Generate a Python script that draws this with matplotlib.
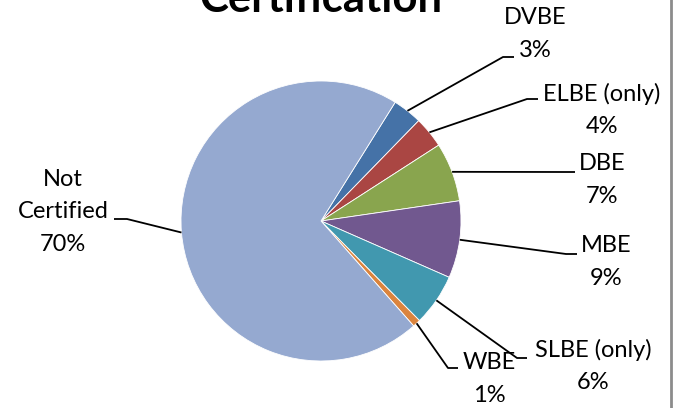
import math
import matplotlib.pyplot as plt

# Data
labels = ['DVBE', 'ELBE (only)', 'DBE', 'MBE', 'SLBE (only)', 'WBE', 'Not\nCertified']
shares = [3.4, 3.6, 6.8, 8.9, 6.0, 0.9, 70.4]
colors = ['#4572A7', '#AA4643', '#89A54E', '#71588F', '#4198AF', '#DB843D', '#95A9D0']

# Label layout (pixel coords, origin top-left): text centre, elbow, line end
text_pos = [(535, 34), (602, 110), (602, 180), (606, 262), (593, 366), (489, 379), (63, 212)]
elbows = [(503, 57), (527, 99), (564, 172), (566, 254), (517, 358), (448, 368), (127, 219)]
ends = [(514, 57), (538, 99), (575, 172), (577, 254), (527, 358), (458, 368), (114, 219)]

W, H = 675, 408
plt.rcParams['font.family'] = ['Lato', 'DejaVu Sans']

fig = plt.figure(figsize=(W / 100, H / 100), dpi=100)
ax = fig.add_axes([0, 0, 1, 1])

cx, cy, r = 321, H - 221, 140
wedges, _ = ax.pie(shares, colors=colors, startangle=58, counterclock=False,
                   center=(cx, cy), radius=r,
                   wedgeprops=dict(linewidth=0.6, edgecolor='white'))
ax.set_xlim(0, W)
ax.set_ylim(0, H)
ax.set_aspect('equal')
ax.axis('off')

total = sum(shares)
for w, lab, v, tp, el, en in zip(wedges, labels, shares, text_pos, elbows, ends):
    # leader line from the middle of the wedge's outer edge
    mid = (w.theta1 + w.theta2) / 2
    sx = cx + r * math.cos(math.radians(mid))
    sy = cy + r * math.sin(math.radians(mid))
    ax.plot([sx, el[0], en[0]], [sy, H - el[1], H - en[1]], color='black', lw=1.3,
            solid_capstyle='butt')
    ax.text(tp[0], H - tp[1], f"{lab}\n{round(v / total * 100)}%", ha='center', va='center',
            fontsize=17, linespacing=1.65, color='black')

# Title (cut off at the top as in the original)
ax.text(cx, H - 12, 'Certification', ha='center', va='baseline', fontsize=31.5,
        fontweight='bold')

# chart border on the right
ax.plot([671, 671], [0, H], color='#8c8c8c', lw=2)

fig.savefig('out.png', dpi=100)
